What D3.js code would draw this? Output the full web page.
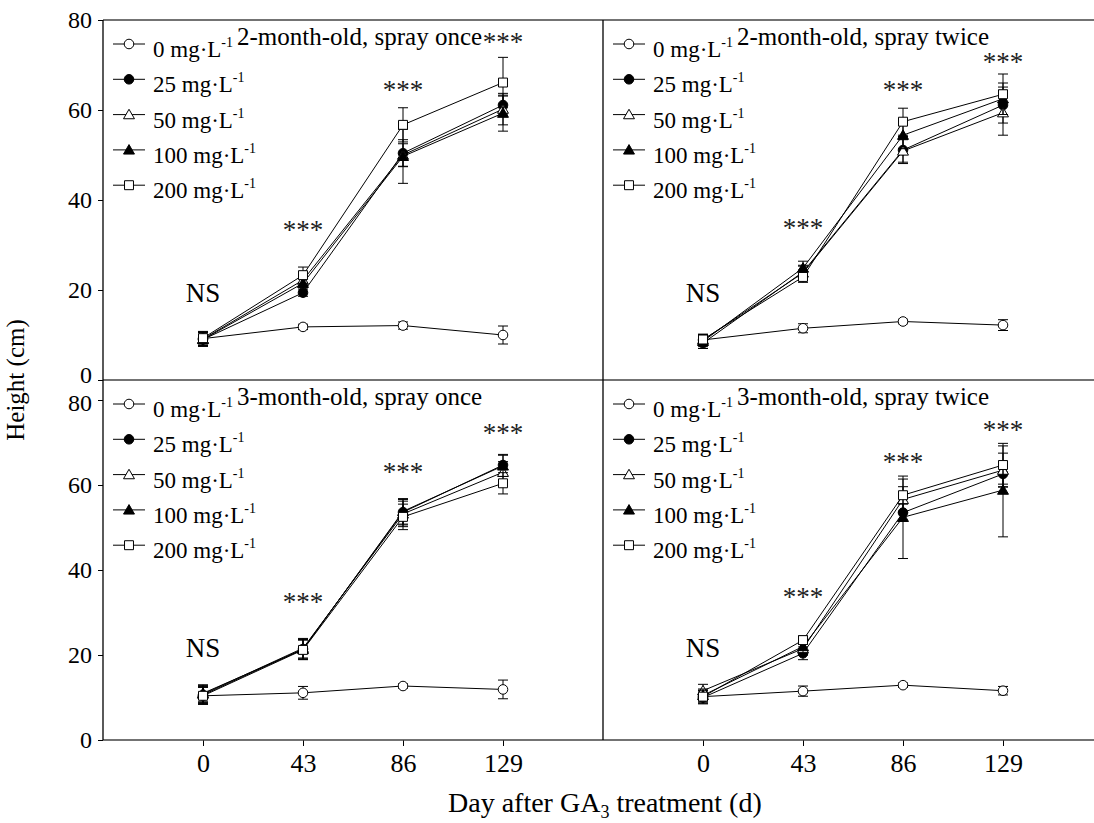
<!DOCTYPE html>
<html>
<head>
<meta charset="utf-8">
<script src="https://cdn.jsdelivr.net/npm/d3@7"></script>
<style>
  body { margin: 0; background: #fff; }
  svg { display: block; }
  svg text { font-family: "Liberation Serif", "LiberationSerif", Tinos, "Times New Roman", Times, "DejaVu Serif", serif; }
</style>
</head>
<body>
<svg id="chart" width="1094" height="823"></svg>
<script>
// x categories (days after treatment) and doses
const days = [0, 43, 86, 129];
const doses = ["0", "25", "50", "100", "200"];
const shapes = ["circleOpen", "circleFilled", "triOpen", "triFilled", "squareOpen"];
const yTicks = [0, 20, 40, 60, 80];

// 2-month-old, spray once  (rows = doses 0,25,50,100,200; cols = days)
const once2Mean = [[9.2, 11.8, 12.1, 10.0], [9.0, 19.4, 50.4, 61.1], [9.1, 22.2, 50.0, 60.2], [9.0, 21.5, 49.7, 59.3], [9.3, 23.3, 56.7, 66.1]];
const once2Err  = [[1.5, 0.6, 0.8, 2.0], [1.5, 0.8, 3.0, 2.0], [1.5, 1.2, 2.5, 3.5], [1.5, 1.0, 6.0, 4.0], [1.5, 1.8, 3.8, 5.6]];
// 2-month-old, spray twice
const twice2Mean = [[8.9, 11.5, 13.0, 12.2], [8.2, 24.0, 51.1, 61.1], [8.9, 23.8, 50.9, 59.4], [8.6, 24.9, 54.4, 62.5], [9.0, 22.9, 57.4, 63.5]];
const twice2Err  = [[1.2, 1.0, 0.5, 1.2], [1.2, 1.5, 3.0, 4.0], [1.2, 1.5, 2.5, 5.0], [1.2, 1.5, 3.0, 3.5], [1.2, 1.2, 3.0, 4.5]];
// 3-month-old, spray once
const once3Mean = [[10.4, 11.1, 12.7, 11.9], [10.6, 21.4, 53.6, 64.7], [10.8, 21.6, 53.2, 63.0], [11.0, 21.3, 53.8, 64.5], [10.4, 21.2, 52.5, 60.4]];
const once3Err  = [[2.0, 1.5, 0.5, 2.2], [2.0, 2.3, 3.0, 2.5], [2.0, 2.3, 3.0, 2.5], [2.0, 2.3, 3.0, 2.5], [2.0, 2.3, 3.0, 2.5]];
// 3-month-old, spray twice
const twice3Mean = [[10.2, 11.5, 12.9, 11.6], [10.0, 20.4, 53.5, 62.6], [11.6, 21.5, 56.6, 63.5], [10.5, 22.0, 52.4, 58.8], [10.2, 23.5, 57.6, 64.7]];
const twice3Err  = [[1.5, 1.2, 0.5, 1.0], [1.5, 1.5, 2.0, 3.0], [1.5, 1.5, 3.0, 4.0], [1.5, 1.5, 9.7, 11.0], [1.5, 1.0, 3.8, 4.5]];

// significance labels: [day, height] where the label is centred
const nsLabel = [[0, 19.3], [0, 19.3], [0, 21.6], [0, 21.6]];
const starLabels = [
  [[43, 34.4], [86, 65.6], [129, 76.2]],
  [[43, 34.9], [86, 65.6], [129, 71.8]],
  [[43, 33.6], [86, 64.2], [129, 73.4]],
  [[43, 34.8], [86, 66.6], [129, 74.1]]
];
const titles = ["2-month-old, spray once", "2-month-old, spray twice", "3-month-old, spray once", "3-month-old, spray twice"];

const svg = d3.select("#chart");

const panels = [
  { title: titles[0], mean: once2Mean, err: once2Err, col: 0, row: 0 },
  { title: titles[1], mean: twice2Mean, err: twice2Err, col: 1, row: 0 },
  { title: titles[2], mean: once3Mean, err: once3Err, col: 0, row: 1 },
  { title: titles[3], mean: twice3Mean, err: twice3Err, col: 1, row: 1 }
];

let xScales = [
  d3.scaleLinear().domain([-43, 172]).range([103, 603]),
  d3.scaleLinear().domain([-43, 172]).range([603, 1103])
];
let yScales = [
  d3.scaleLinear().domain([0, 80]).range([380, 20]),
  d3.scaleLinear().domain([0, 80]).range([740, 400])
];
let panelTop = [20, 380];

let drawMarker = (g, shape, x, y) => {
  let type = shape.startsWith("circle") ? d3.symbolCircle : shape.startsWith("tri") ? d3.symbolTriangle : d3.symbolSquare;
  let size = shape.startsWith("circle") ? 72 : shape.startsWith("tri") ? 52 : 80;
  let filled = shape.endsWith("Filled");
  g.append("path")
    .attr("d", d3.symbol().type(type).size(size)())
    .attr("transform", `translate(${x},${y + (shape.startsWith("tri") ? 1 : 0)})`)
    .attr("fill", filled ? "#000" : "#fff")
    .attr("stroke", "#000")
    .attr("stroke-width", 1);
};

panels.forEach((p, pi) => {
  let x = xScales[p.col];
  let y = yScales[p.row];
  let left = x.range()[0];
  let top = panelTop[p.row];
  let g = svg.append("g");

  // series: lines, error bars, markers
  for (let i = 0; i < doses.length; i++) {
    let sg = g.append("g");
    let pts = days.map((d, j) => ({ d: d, v: p.mean[i][j], e: p.err[i][j] }));
    sg.append("path")
      .datum(pts)
      .attr("fill", "none")
      .attr("stroke", "#000")
      .attr("stroke-width", 1)
      .attr("d", d3.line().x(q => x(q.d)).y(q => y(q.v)));
    pts.forEach(q => {
      let cx = x(q.d);
      sg.append("line").attr("x1", cx).attr("x2", cx).attr("y1", y(q.v - q.e)).attr("y2", y(q.v + q.e)).attr("stroke", "#000");
      [q.v - q.e, q.v + q.e].forEach(v => {
        sg.append("line").attr("x1", cx - 5).attr("x2", cx + 5).attr("y1", y(v)).attr("y2", y(v)).attr("stroke", "#000");
      });
    });
    pts.forEach(q => drawMarker(sg, shapes[i], x(q.d), y(q.v)));
  }

  // legend
  doses.forEach((d, i) => {
    let ly = top + 24 + i * 35.3;
    g.append("line").attr("x1", left + 10).attr("x2", left + 42).attr("y1", ly).attr("y2", ly).attr("stroke", "#000");
    drawMarker(g, shapes[i], left + 26, ly);
    let t = g.append("text").attr("x", left + 50).attr("y", ly + 13).attr("font-size", 23);
    t.append("tspan").text(d + " mg·L");
    t.append("tspan").attr("font-size", 14).attr("dy", -10).text("-1");
  });

  // title
  g.append("text").attr("x", left + 134).attr("y", top + 25).attr("font-size", 25).text(p.title);

  // NS and asterisks
  g.append("text").attr("x", x(nsLabel[pi][0])).attr("y", y(nsLabel[pi][1]) + 9)
    .attr("text-anchor", "middle").attr("font-size", 27).text("NS");
  starLabels[pi].forEach(s => {
    g.append("text").attr("x", x(s[0])).attr("y", y(s[1]) + 14)
      .attr("text-anchor", "middle").attr("font-size", 27)
      .attr("fill", "#222").text("***");
  });

  // axes
  if (p.col === 0) {
    let ay = g.append("g").attr("transform", `translate(${left},0)`)
      .call(d3.axisLeft(y).tickValues(yTicks).tickSize(5).tickPadding(6));
    ay.attr("font-family", null);
    ay.select(".domain").remove();
    ay.selectAll("text").attr("font-size", 24).attr("fill", "#000");
    // the shared boundary labels (top "0", bottom "80") sit close together
    ay.selectAll(".tick").filter(v => (p.row === 0 && v === 0) || (p.row === 1 && v === 80))
      .select("text").attr("dy", p.row === 0 ? "0.1em" : "0.45em");
  }
  if (p.row === 1) {
    let ax = g.append("g").attr("transform", `translate(0,740)`)
      .call(d3.axisBottom(x).tickValues(days).tickSize(6).tickPadding(8));
    ax.attr("font-family", null);
    ax.select(".domain").remove();
    ax.selectAll("text").attr("font-size", 26).attr("fill", "#000");
  }
});

// frame lines
let frame = svg.append("g").attr("stroke", "#444").attr("stroke-width", 1.3);
frame.append("line").attr("x1", 103).attr("x2", 1094).attr("y1", 20).attr("y2", 20);
frame.append("line").attr("x1", 103).attr("x2", 1094).attr("y1", 380).attr("y2", 380);
frame.append("line").attr("x1", 103).attr("x2", 1094).attr("y1", 740).attr("y2", 740);
frame.append("line").attr("x1", 103).attr("x2", 103).attr("y1", 20).attr("y2", 740).attr("stroke", "#000");
frame.append("line").attr("x1", 603).attr("x2", 603).attr("y1", 20).attr("y2", 740).attr("stroke", "#000");

// axis titles
svg.append("text").attr("transform", "translate(24,380) rotate(-90)")
  .attr("text-anchor", "middle").attr("font-size", 25).text("Height (cm)");
let xt = svg.append("text").attr("x", 448).attr("y", 812).attr("font-size", 28);
xt.append("tspan").text("Day after GA");
xt.append("tspan").attr("font-size", 18).attr("dy", 6).text("3");
xt.append("tspan").attr("dy", -6).text(" treatment (d)");
</script>
</body>
</html>
